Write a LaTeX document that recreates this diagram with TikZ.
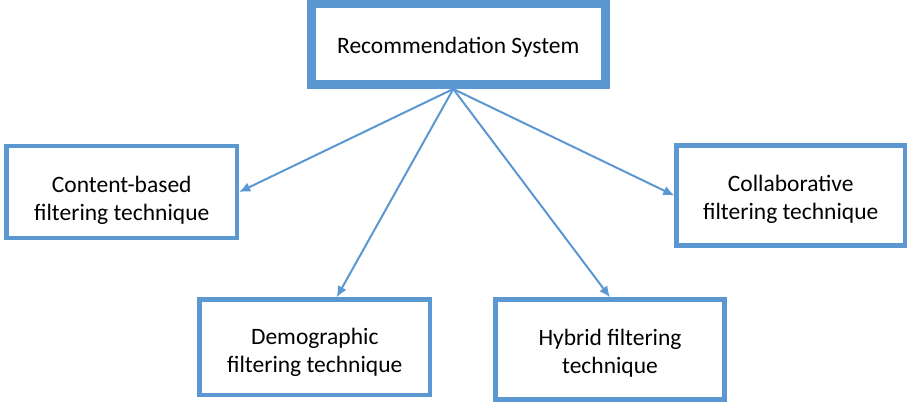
\documentclass[tikz,border=0pt]{standalone}
\usepackage{fontspec}
\setmainfont{Carlito}
\usetikzlibrary{arrows.meta}
\definecolor{boxblue}{RGB}{91,152,210}
\tikzset{
  box/.style={draw=boxblue, line width=4.5pt, fill=white, inner sep=0pt},
  rootbox/.style={box, line width=9pt},
  caption/.style={align=center, inner sep=0pt, font=\fontsize{23.5}{28}\selectfont},
  link/.style={draw=boxblue, line width=2pt, -{Latex[length=11pt,width=10pt]}}
}
\begin{document}
\begin{tikzpicture}[x=1pt,y=1pt]
  \useasboundingbox (0,0) rectangle (909,407);
  % root and the four technique boxes (centres in pt, y measured from the bottom)
  \node[rootbox, minimum width=293.5pt, minimum height=80.5pt] (root) at (458.25,362.75) {};
  \node[box, minimum width=230.5pt, minimum height=92pt] (content) at (121.75,215) {};
  \node[box, minimum width=228.5pt, minimum height=100pt] (collab) at (790.75,211.5) {};
  \node[box, minimum width=230.5pt, minimum height=95.5pt] (demo) at (314.75,59.75) {};
  \node[box, minimum width=229pt, minimum height=100pt] (hybrid) at (610,57.5) {};
  % box captions, set a little below each box centre
  \node[caption] (root-t) at ([yshift=-3pt]root.center) {Recommendation System};
  \node[caption] (content-t) at ([yshift=-8pt]content.center) {Content-based\\filtering technique};
  \node[caption] (collab-t) at ([yshift=-3.5pt]collab.center) {Collaborative\\filtering technique};
  \node[caption] (demo-t) at ([yshift=-5pt]demo.center) {Demographic\\filtering technique};
  \node[caption] (hybrid-t) at ([yshift=-3.5pt]hybrid.center) {Hybrid filtering\\technique};
  % common origin of the connectors on the root's lower edge
  \coordinate (src) at ([xshift=-5pt]root.south);
  \coordinate (demotop) at ([xshift=22pt]demo.north);
  \draw[link] (src) -- (content.east);
  \draw[link] (src) -- (demotop);
  \draw[link] (src) -- (hybrid.north);
  \draw[link] (src) -- (collab.west);
\end{tikzpicture}
\end{document}
